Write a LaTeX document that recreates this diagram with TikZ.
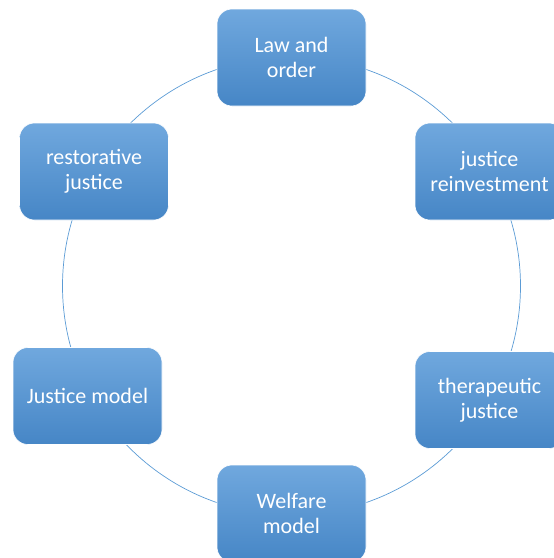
\documentclass[tikz,border=0pt]{standalone}
\usepackage{fontspec}
\setmainfont{Carlito}
\definecolor{ringblue}{HTML}{5B9BD5}
\definecolor{boxtop}{HTML}{70A8DE}
\definecolor{boxbot}{HTML}{4686C6}
\tikzset{
  cyclebox/.style={rounded corners=15pt, minimum width=149pt, minimum height=97pt,
    top color=boxtop, bottom color=boxbot, draw=white, line width=0.6pt,
    text=white, align=center, inner sep=2pt,
    font=\fontsize{22pt}{25pt}\selectfont},
  ring/.style={draw=ringblue, line width=0.7pt}
}
\begin{document}
\begin{tikzpicture}[x=1pt,y=-1pt]
\useasboundingbox (0,0) rectangle (554,558);
\clip (0,0) rectangle (554,558);
\coordinate (c) at (291.5,286);
\draw[ring] (c) circle[radius=229pt];
\node[cyclebox] (law) at (291.5,57.5) {Law and\\order};
\node[cyclebox] (reinv) at (489.5,171.5) {justice\\reinvestment};
\node[cyclebox] (thera) at (489.5,400) {therapeutic\\justice};
\node[cyclebox] (welf) at (291.5,513.5) {Welfare\\model};
\node[cyclebox] (jmodel) at (87.5,396) {Justice model};
\node[cyclebox] (resto) at (94,171.5) {restorative\\justice};
\end{tikzpicture}
\end{document}
